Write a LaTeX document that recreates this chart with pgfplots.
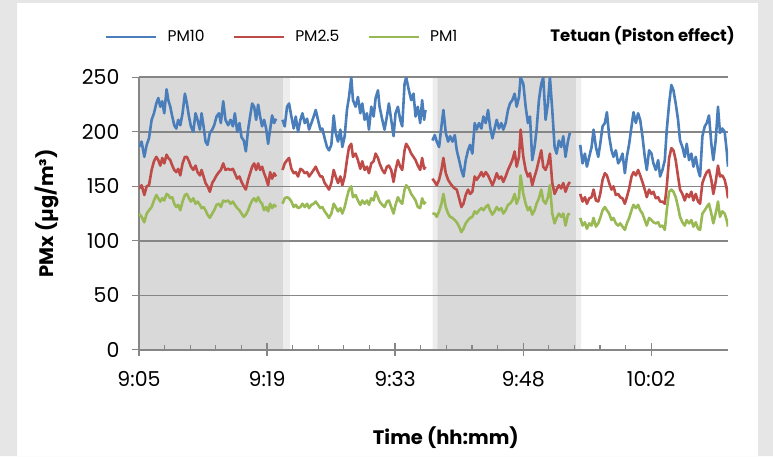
\documentclass[border=0pt]{standalone}
\usepackage{pgfplots}
\pgfplotsset{compat=1.18}
\usepackage{pgfplotstable}
\usepackage{fontspec}
\setmainfont{Poppins}

\definecolor{pmblue}{HTML}{4A7EBB}
\definecolor{pmred}{HTML}{BE4B48}
\definecolor{pmgreen}{HTML}{98B954}
\definecolor{gridgray}{HTML}{868686}
\definecolor{shade}{HTML}{D9D9D9}
\definecolor{shadelight}{HTML}{EDEDED}
\definecolor{outer}{HTML}{E6E6E6}

% t = minutes after 9:05, PM concentrations in ug/m3
\pgfplotstableread{
t pmten pmtwo pmone
0.00 186 148 125
0.29 191 151 122
0.59 177 142 117
0.85 188 150 125
1.11 194 151 128
1.40 211 165 131
1.66 217 173 137
1.92 226 177 142
2.14 231 174 139
2.36 223 169 136
2.58 228 176 139
2.80 217 171 137
3.06 239 179 143
3.25 229 176 142
3.47 223 174 139
3.69 214 169 140
3.91 206 165 134
4.13 203 163 131
4.35 211 166 133
4.58 206 160 128
4.83 217 171 136
5.09 235 177 142
5.31 226 177 143
5.54 214 173 139
5.76 205 168 136
6.02 200 165 139
6.27 217 169 134
6.49 211 163 136
6.75 202 160 133
6.94 217 165 130
7.16 205 159 131
7.38 191 153 128
7.60 188 150 124
7.86 199 145 121
8.12 202 153 125
8.34 206 156 128
8.60 214 160 133
8.86 217 163 134
9.08 208 165 131
9.34 228 171 137
9.59 211 165 136
9.89 206 166 137
10.15 211 165 134
10.41 205 166 136
10.63 217 162 133
10.89 200 157 130
11.14 208 159 128
11.37 195 154 125
11.62 192 150 122
11.85 182 147 124
12.10 202 156 128
12.32 214 162 133
12.55 226 168 137
12.77 223 171 139
12.99 211 165 136
13.21 225 171 140
13.43 214 165 136
13.65 205 168 134
13.87 211 162 128
14.10 203 157 131
14.32 189 151 127
14.54 202 163 134
14.76 215 157 130
14.98 208 162 133
15.20 212 159 131
15.55 nan nan nan
15.91 211 165 134
16.16 205 171 139
16.42 223 174 140
16.64 226 176 139
16.90 214 166 136
17.16 203 162 131
17.38 214 163 133
17.64 200 159 130
17.90 211 166 131
18.12 217 165 134
18.38 208 162 131
18.64 212 163 134
18.86 202 159 130
19.12 208 162 133
19.37 214 165 134
19.60 220 168 136
19.85 211 163 133
20.11 202 159 130
20.33 203 159 131
20.59 194 153 127
20.85 186 150 124
21.07 183 147 121
21.33 188 153 125
21.59 215 165 134
21.81 199 159 131
22.07 191 153 127
22.33 202 159 130
22.55 186 151 125
22.81 196 159 131
23.06 220 174 140
23.29 232 186 147
23.54 250 189 150
23.73 229 177 140
24.02 223 180 142
24.28 232 174 137
24.54 217 166 133
24.76 226 173 137
25.02 211 165 134
25.28 217 168 137
25.50 202 162 133
25.76 223 171 139
26.02 214 173 137
26.24 231 180 145
26.50 238 176 140
26.68 223 171 136
26.98 211 165 133
27.23 202 162 131
27.49 214 168 136
27.71 226 169 137
27.97 211 165 131
28.23 196 154 125
28.45 217 165 133
28.71 223 174 140
28.97 211 168 136
29.19 205 165 134
29.45 244 183 147
29.63 250 189 151
29.93 238 185 148
30.19 229 180 143
30.44 235 177 140
30.67 214 174 137
30.92 223 169 131
31.18 208 165 130
31.40 229 176 139
31.62 211 166 134
31.77 220 168 136
32.10 nan nan nan
32.54 192 157 125
32.80 197 154 125
33.02 191 151 122
33.28 186 156 127
33.54 205 165 134
33.76 220 176 143
34.02 199 162 131
34.28 191 156 125
34.50 196 153 122
34.76 191 150 121
35.02 197 148 119
35.24 183 147 117
35.50 174 139 113
35.75 165 131 108
35.98 159 134 111
36.23 174 142 116
36.49 183 147 119
36.71 188 143 121
36.97 180 145 122
37.23 208 159 127
37.45 202 156 125
37.71 208 159 128
37.97 203 163 130
38.19 214 159 128
38.45 208 163 131
38.71 220 160 133
38.93 205 156 128
39.19 194 151 124
39.44 203 156 127
39.67 211 162 131
39.92 203 157 128
40.18 208 159 130
40.40 202 154 125
40.66 208 159 128
40.92 220 165 133
41.14 226 169 134
41.40 229 174 137
41.66 235 182 143
41.88 223 168 134
42.14 232 177 140
42.32 250 202 160
42.62 244 177 143
42.88 223 165 134
43.13 208 159 128
43.36 214 162 131
43.61 174 151 124
43.87 186 159 128
44.09 202 165 134
44.35 229 174 139
44.61 244 183 147
44.83 250 168 137
45.09 211 165 134
45.35 226 171 140
45.57 250 180 151
45.83 220 153 125
46.09 186 143 116
46.31 180 147 121
46.57 192 151 125
46.82 186 148 122
47.05 196 153 125
47.30 177 145 114
47.56 191 151 124
47.78 199 154 125
48.40 nan nan nan
48.93 188 143 121
49.19 171 136 114
49.45 180 140 117
49.67 168 134 111
49.93 177 139 116
50.19 186 140 114
50.41 202 147 121
50.67 186 137 113
50.93 177 136 116
51.15 189 143 121
51.41 205 156 128
51.66 208 162 131
51.89 218 160 128
52.14 196 153 125
52.40 183 147 119
52.62 177 150 121
52.88 183 142 116
53.14 171 143 114
53.36 174 140 116
53.62 180 139 113
53.88 162 134 110
54.10 177 140 116
54.36 189 148 121
54.62 205 159 128
54.84 218 163 133
55.10 208 160 130
55.35 217 165 133
55.58 211 160 128
55.83 196 154 125
56.09 177 147 119
56.31 165 140 114
56.57 183 147 121
56.83 180 143 119
57.05 171 145 117
57.31 165 139 116
57.57 174 140 117
57.79 159 136 113
58.05 165 136 114
58.31 174 134 110
58.53 202 150 128
58.79 226 176 145
59.04 243 185 147
59.27 238 183 145
59.52 226 174 140
59.78 211 159 131
60.00 192 147 122
60.26 186 143 117
60.52 177 137 114
60.74 189 143 119
61.00 174 140 116
61.26 180 145 119
61.48 168 137 113
61.74 177 143 117
62.00 165 136 111
62.22 159 134 110
62.48 196 153 125
62.74 205 159 128
62.96 208 163 131
63.21 215 165 134
63.47 189 156 125
63.69 174 143 116
63.95 192 154 125
64.21 223 169 136
64.43 199 159 122
64.69 203 160 127
64.95 200 156 125
65.17 183 148 119
65.32 168 139 113
}\pmdata

\begin{document}
\begin{tikzpicture}[x=1pt,y=1pt]
% grey page border round the white panel (the panel itself is left unpainted)
\fill[outer, even odd rule] (0,0) rectangle (773,456) (17,0) rectangle (758,453);
\begin{axis}[
    at={(139pt,106.2pt)}, anchor=south west,
    scale only axis, width=589pt, height=272.5pt,
    set layers,
    xmin=0, xmax=65.32,
    ymin=0, ymax=250,
    ytick={0,50,...,250},
    xtick={0,14.2,28.4,42.6,56.8},
    xticklabels={9:05,9:19,9:33,9:48,10:02},
    minor x tick num=4,
    extra x ticks={0,14.2,28.4,42.6,56.8},
    extra x tick labels={},
    extra x tick style={tick align=center, major tick length=12pt, grid=none},
    axis x line*=bottom, axis y line*=left,
    x axis line style={-, draw=gridgray, line width=1.6pt},
    y axis line style={-, draw=gridgray, line width=1.2pt},
    xtick align=inside, ytick align=outside,
    major tick length=7pt, minor tick length=5pt,
    tick style={draw=gridgray, line width=1.2pt},
    ymajorgrids=true,
    major grid style={draw=gridgray, line width=1.6pt},
    /pgf/number format/assume math mode=true,
    ticklabel style={font=\fontsize{20.5}{24}\selectfont, text=black},
    xticklabel style={yshift=-18pt},
    yticklabel style={xshift=-9pt},
    xlabel={\textbf{Time (hh:mm)}},
    ylabel={\textbf{PMx (µg/m³)}},
    label style={font=\fontsize{19.5}{22}\selectfont},
    xlabel style={at={(axis description cs:0.521,-0.323)}, anchor=center},
    ylabel style={at={(axis description cs:-0.156,0.5)}, anchor=center},
    unbounded coords=jump,
    legend columns=3,
    legend style={draw=none, fill=none, inner sep=0pt,
        at={(axis description cs:-0.058,1.148)}, anchor=west,
        font=\fontsize{15.5}{18}\selectfont,
        nodes={inner sep=0pt},
        /tikz/every odd column/.append style={column sep=10pt},
        /tikz/every even column/.append style={column sep=28pt}},
    legend image code/.code={\draw[#1] (0pt,0pt) -- (50pt,0pt);},
]
\addplot[fill=shade, draw=none, forget plot, on layer=axis background] coordinates {(0,0) (0,250) (15.98,250) (15.98,0)} \closedcycle;
\addplot[fill=shadelight, draw=none, forget plot, on layer=axis background] coordinates {(15.98,0) (15.98,250) (16.72,250) (16.72,0)} \closedcycle;
\addplot[fill=shadelight, draw=none, forget plot, on layer=axis background] coordinates {(32.55,0) (32.55,250) (33.10,250) (33.10,0)} \closedcycle;
\addplot[fill=shade, draw=none, forget plot, on layer=axis background] coordinates {(33.10,0) (33.10,250) (48.49,250) (48.49,0)} \closedcycle;
\addplot[fill=shadelight, draw=none, forget plot, on layer=axis background] coordinates {(48.49,0) (48.49,250) (49.04,250) (49.04,0)} \closedcycle;
\addplot[pmblue, line width=2.6pt, line join=round] table[x=t, y=pmten] {\pmdata};
\addplot[pmred, line width=2.6pt, line join=round] table[x=t, y=pmtwo] {\pmdata};
\addplot[pmgreen, line width=2.6pt, line join=round] table[x=t, y=pmone] {\pmdata};
\legend{PM10, PM2.5, PM1}
\end{axis}
\node[anchor=east, inner sep=0pt, font=\fontsize{16.5}{19}\selectfont\bfseries] at (735,420) {Tetuan (Piston effect)};
\end{tikzpicture}
\end{document}
